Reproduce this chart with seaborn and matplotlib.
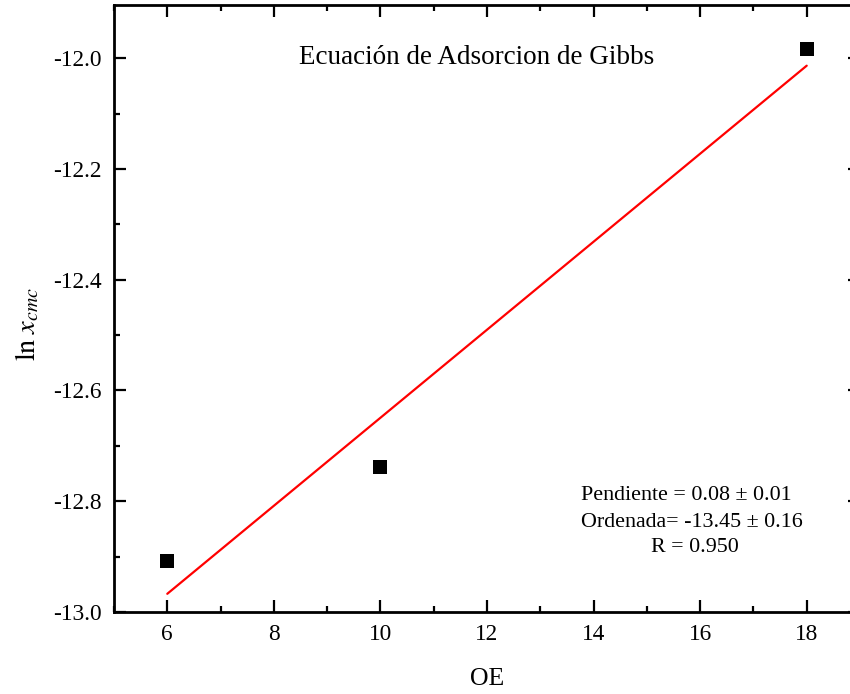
import matplotlib
matplotlib.use("Agg")
import matplotlib.pyplot as plt
import seaborn as sns
import numpy as np
import pandas as pd
from matplotlib.ticker import MultipleLocator, FormatStrFormatter

# Data
oe = [6, 10, 18]
ln_xcmc = [-12.908, -12.738, -11.984]

title_text = "Ecuación de Adsorcion de Gibbs"
fit_lines = ["Pendiente = 0.08 \u00b1 0.01", "Ordenada= -13.45 \u00b1 0.16", "R = 0.950"]

sns.set_theme(style="ticks")
plt.rcParams['font.family'] = ['Liberation Serif', 'DejaVu Serif']
plt.rcParams['mathtext.fontset'] = 'stix'
plt.rcParams['text.color'] = 'black'
plt.rcParams['axes.labelcolor'] = 'black'
plt.rcParams['xtick.color'] = 'black'
plt.rcParams['ytick.color'] = 'black'

df = pd.DataFrame({"OE": oe, "ln": ln_xcmc})

fig = plt.figure(figsize=(8.5, 6.94), dpi=100)
ax = fig.add_axes([114/850, 82/694, 746/850, 607/694])

sns.regplot(data=df, x="OE", y="ln", ax=ax, ci=None, marker="s", color="black",
            scatter_kws=dict(s=92, linewidths=0, color="black", alpha=1, zorder=3),
            line_kws=dict(color="red", lw=1.6, zorder=2))

ax.set_xlim(5, 19)
ax.set_ylim(-13.0, -11.904)
ax.xaxis.set_major_locator(MultipleLocator(2))
ax.xaxis.set_minor_locator(MultipleLocator(1))
ax.yaxis.set_major_locator(MultipleLocator(0.2))
ax.yaxis.set_minor_locator(MultipleLocator(0.1))
ax.yaxis.set_major_formatter(FormatStrFormatter('%.1f'))

for s in ax.spines.values():
    s.set_linewidth(2.0)
    s.set_color('black')

ax.tick_params(which='both', direction='in', top=True, right=True, width=1.6,
               colors='black', labelcolor='black')
ax.tick_params(which='major', length=8.5, labelsize=16.8, pad=9)
ax.tick_params(which='minor', length=4.3)

ax.set_xlabel("OE", fontsize=18.5, labelpad=16, color='black')
ax.set_ylabel(r"$\mathrm{ln}\;x_{cmc}$", fontsize=20.5, color='black')
ax.yaxis.set_label_coords(-0.097, 0.474)

ax.text(11.8, -11.998, title_text, fontsize=19.5, ha='center', va='center', color='black')
ax.text(13.76, -12.789, fit_lines[0], fontsize=15.8, ha='left', va='center', color='black')
ax.text(13.76, -12.838, fit_lines[1], fontsize=15.8, ha='left', va='center', color='black')
ax.text(15.90, -12.884, fit_lines[2], fontsize=15.8, ha='center', va='center', color='black')

fig.savefig("out.png", dpi=100)
